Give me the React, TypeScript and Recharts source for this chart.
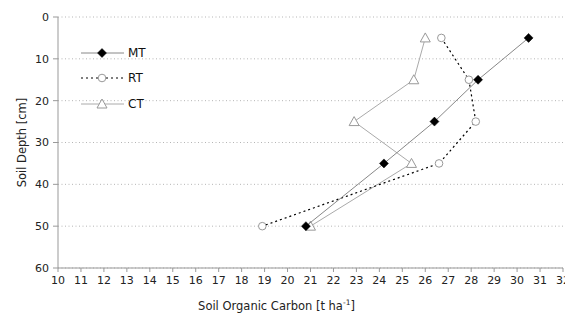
import React from 'react';
import { ScatterChart, Scatter, XAxis, YAxis, CartesianGrid, Legend, Label } from 'recharts';

const depths = [5, 15, 25, 35, 50];
const mtCarbon = [30.5, 28.3, 26.4, 24.2, 20.8];
const rtCarbon = [26.7, 27.9, 28.2, 26.6, 18.9];
const ctCarbon = [26.0, 25.5, 22.9, 25.4, 21.0];
const xTicks = [10, 11, 12, 13, 14, 15, 16, 17, 18, 19, 20, 21, 22, 23, 24, 25, 26, 27, 28, 29, 30, 31, 32];
const yTicks = [0, 10, 20, 30, 40, 50, 60];
const seriesNames = ['MT', 'RT', 'CT'];

const toPoints = (vals: number[]) => depths.map((d, i) => ({ x: vals[i], y: d }));
const mtData = toPoints(mtCarbon);
const rtData = toPoints(rtCarbon);
const ctData = toPoints(ctCarbon);

const FONT = '"DejaVu Sans", Verdana, sans-serif';

const Diamond = (p: any) => {
  const { cx, cy } = p;
  const r = 4.5;
  return <path d={`M${cx},${cy - r}L${cx + r},${cy}L${cx},${cy + r}L${cx - r},${cy}Z`} fill="#000" stroke="#000" strokeWidth={0.5} />;
};
const Circle = (p: any) => <circle cx={p.cx} cy={p.cy} r={3.8} fill="#fff" stroke="#999" strokeWidth={1} />;
const Triangle = (p: any) => {
  const { cx, cy } = p;
  return <path d={`M${cx},${cy - 5}L${cx + 5},${cy + 4}L${cx - 5},${cy + 4}Z`} fill="#fff" stroke="#999" strokeWidth={1} />;
};

const legendItems = [
  { name: seriesNames[0], stroke: '#888', dash: undefined, Shape: Diamond },
  { name: seriesNames[1], stroke: '#000', dash: '2 3', Shape: Circle },
  { name: seriesNames[2], stroke: '#aaa', dash: undefined, Shape: Triangle },
];

const renderLegend = () => (
  <div style={{ fontFamily: FONT, fontSize: 12, color: '#111' }}>
    {legendItems.map((it) => (
      <div key={it.name} style={{ display: 'flex', alignItems: 'center', height: 25.5 }}>
        <svg width={43} height={14} style={{ display: 'block', flex: 'none' }}>
          <line x1={0} y1={7} x2={43} y2={7} stroke={it.stroke} strokeWidth={1} strokeDasharray={it.dash} />
          <it.Shape cx={21} cy={7} />
        </svg>
        <span style={{ marginLeft: 4 }}>{it.name}</span>
      </div>
    ))}
  </div>
);

const XLabel = (props: any) => {
  const vb = props.viewBox || {};
  const x = vb.x + vb.width / 2 - 34;
  const y = vb.y + 42;
  return (
    <text x={x} y={y} textAnchor="middle" fontFamily={FONT} fontSize={11.5} fill="#222">
      <tspan>Soil Organic Carbon [t ha</tspan>
      <tspan dy={-5} fontSize={7.5}>-1</tspan>
      <tspan dy={5}>]</tspan>
    </text>
  );
};

const YLabel = (props: any) => {
  const vb = props.viewBox || {};
  const x = vb.x + 4;
  const y = vb.y + vb.height / 2;
  return (
    <text x={x} y={y} transform={`rotate(-90, ${x}, ${y})`} textAnchor="middle" dominantBaseline="central" fontFamily={FONT} fontSize={11.5} fill="#222">
      Soil Depth [cm]
    </text>
  );
};

export default function App() {
  return (
    <ScatterChart width={565} height={306} margin={{ top: 9, right: 10, bottom: 6, left: 10 }} style={{ background: '#fff' }}>
      <CartesianGrid vertical={false} stroke="#b5b5b5" strokeDasharray="1 2.5" />
      <XAxis
        type="number"
        dataKey="x"
        domain={[10, 32]}
        ticks={xTicks}
        interval={0}
        height={40}
        tickSize={4}
        tickMargin={4}
        stroke="#999"
        tick={{ fill: '#222', fontSize: 11, fontFamily: FONT }}
        allowDataOverflow
      >
        <Label content={XLabel} />
      </XAxis>
      <YAxis
        type="number"
        dataKey="y"
        domain={[0, 60]}
        ticks={yTicks}
        interval={0}
        reversed
        width={40}
        tickSize={5}
        tickMargin={4}
        stroke="#999"
        tick={{ fill: '#222', fontSize: 11, fontFamily: FONT }}
        allowDataOverflow
      >
        <Label content={YLabel} />
      </YAxis>
      <Legend
        content={renderLegend}
        layout="vertical"
        align="center"
        verticalAlign="middle"
        wrapperStyle={{ left: 73, top: 32, width: 90 }}
      />
      <Scatter name="CT" data={ctData} fill="#fff" line={{ stroke: '#aaa', strokeWidth: 1 }} lineType="joint" shape={Triangle} isAnimationActive={false} />
      <Scatter name="RT" data={rtData} fill="#fff" line={{ stroke: '#000', strokeWidth: 1.2, strokeDasharray: '2 3' }} lineType="joint" shape={Circle} isAnimationActive={false} />
      <Scatter name="MT" data={mtData} fill="#000" line={{ stroke: '#888', strokeWidth: 1 }} lineType="joint" shape={Diamond} isAnimationActive={false} />
    </ScatterChart>
  );
}
